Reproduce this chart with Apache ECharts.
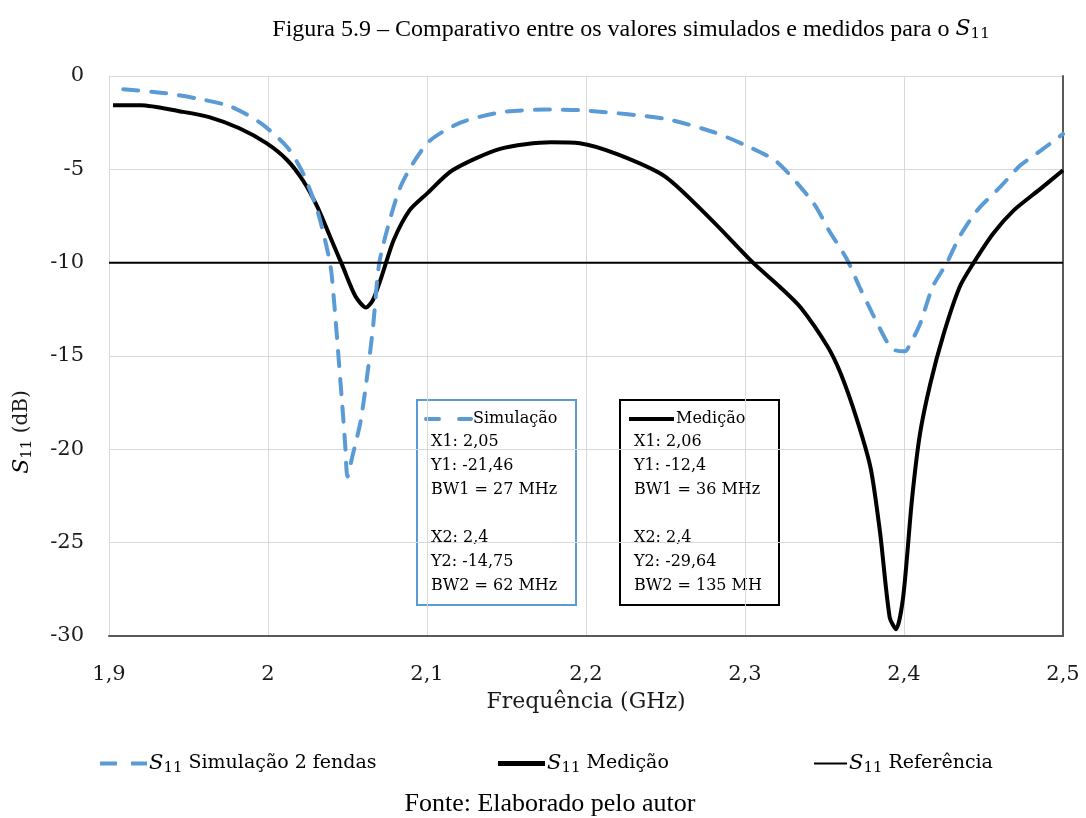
<!DOCTYPE html>
<html><head><meta charset="utf-8">
<script src="https://cdn.jsdelivr.net/npm/echarts@6/dist/echarts.min.js"></script>
<style>html,body{margin:0;padding:0;background:#fff}#c{width:1086px;height:818px}</style>
</head><body><div id="c"></div>
<script>
// ---- data ----
const simFreq = [1.909,1.936,1.955,1.976,1.995,2.012,2.022,2.031,2.037,2.040,2.0465,2.0485,2.050,2.053,2.058,2.0617,2.066,2.070,2.077,2.083,2.091,2.102,2.121,2.146,2.175,2.200,2.250,2.280,2.300,2.320,2.343,2.353,2.364,2.372,2.380,2.389,2.393,2.400,2.402,2.410,2.418,2.427,2.435,2.446,2.461,2.473,2.486,2.500];
const simDb   = [-0.71,-0.93,-1.2,-1.62,-2.5,-3.8,-5.2,-7.2,-9.2,-10.6,-17.4,-19.7,-21.46,-20.4,-18.6,-16.5,-13.5,-10.0,-7.6,-6.0,-4.7,-3.45,-2.5,-1.95,-1.8,-1.85,-2.3,-3.0,-3.7,-4.6,-6.8,-8.3,-9.8,-11.3,-12.7,-14.2,-14.65,-14.75,-14.65,-13.3,-11.3,-10.0,-8.6,-7.2,-5.9,-4.8,-4.0,-3.1];
const measFreq = [1.9025,1.920,1.945,1.963,1.982,1.999,2.012,2.022,2.031,2.039,2.047,2.055,2.0616,2.066,2.072,2.079,2.089,2.100,2.116,2.146,2.178,2.196,2.220,2.250,2.280,2.305,2.322,2.335,2.352,2.360,2.370,2.379,2.385,2.391,2.395,2.3995,2.405,2.410,2.4165,2.425,2.435,2.4435,2.456,2.469,2.485,2.500];
const measDb   = [-1.57,-1.57,-1.9,-2.2,-2.8,-3.6,-4.5,-5.6,-7.0,-8.6,-10.2,-11.8,-12.4,-12.0,-10.6,-8.8,-7.2,-6.3,-5.05,-3.9,-3.55,-3.6,-4.2,-5.4,-7.8,-10.0,-11.3,-12.4,-14.5,-15.9,-18.3,-21.0,-24.5,-29.0,-29.64,-27.9,-22.7,-19.2,-16.5,-13.8,-11.3,-10.05,-8.45,-7.2,-6.1,-5.05];
const refFreq = [1.9, 2.5];
const refDb   = [-10, -10];
const seriesNames = ['Simulação 2 fendas', 'Medição', 'Referência'];
const simNote  = ['X1: 2,05','Y1: -21,46','BW1 = 27 MHz','','X2: 2,4','Y2: -14,75','BW2 = 62 MHz'];
const measNote = ['X1: 2,06','Y1: -12,4','BW1 = 36 MHz','','X2: 2,4','Y2: -29,64','BW2 = 135 MH'];
const titleText = 'Figura 5.9 – Comparativo entre os valores simulados e medidos para o ';
const sourceText = 'Fonte: Elaborado pelo autor';

const zip = (a, b) => a.map((v, i) => [v, b[i]]);
const SERIF = 'DejaVu Serif';
const BLUE = '#5B9BD5';
const richS = {
  s:   {fontFamily: SERIF, fontStyle: 'italic', fontSize: 21, color: '#000'},
  sub: {fontFamily: SERIF, fontSize: 15, color: '#000', padding: [10, 0, 0, 0]},
  t:   {fontFamily: SERIF, fontSize: 19, color: '#000'}
};
const chart = echarts.init(document.getElementById('c'));
const noteGroup = (x, color, lineStyle, label, lines) => {
  const children = [
    {type: 'rect', shape: {x: x, y: 400, width: 159, height: 205}, style: {fill: '#fff', stroke: color, lineWidth: 2}},
    {type: 'line', shape: {x1: x + 9, y1: 419, x2: x + 54, y2: 419}, style: lineStyle},
    {type: 'text', x: x + 56, y: 419, style: {text: label, font: '16px "DejaVu Serif"', fill: '#000', verticalAlign: 'middle'}}
  ];
  lines.forEach((l, i) => {
    children.push({type: 'text', x: x + 14, y: 442 + i * 24, style: {text: l, font: '16px "DejaVu Serif"', fill: '#000', verticalAlign: 'middle'}});
  });
  return {type: 'group', children: children, z: 100};
};
const legendIcons = [
  'path://M0,0h17v4h-17z M31,0h16v4h-16z',
  'rect',
  'rect'
];
const option = {
  animation: false,
  backgroundColor: '#fff',
  title: [{
    text: titleText + '{s|S}{sub|11}', left: 626, top: 12, textAlign: 'center',
    textStyle: {fontFamily: 'Liberation Serif', fontSize: 24, fontWeight: 'normal', color: '#000',
      rich: {s: {fontFamily: SERIF, fontStyle: 'italic', fontSize: 22}, sub: {fontFamily: SERIF, fontSize: 15, padding: [10,0,0,0]}}}
  }, {
    text: sourceText, left: 545, top: 786, textAlign: 'center',
    textStyle: {fontFamily: 'Liberation Serif', fontSize: 26, fontWeight: 'normal', color: '#000'}
  }],
  grid: {left: 109, top: 76, width: 954, height: 560, containLabel: false},
  xAxis: {
    type: 'value', min: 1.9, max: 2.5, interval: 0.1,
    axisLine: {show: true, onZero: false, lineStyle: {color: '#595959', width: 2}},
    axisTick: {show: false},
    splitLine: {show: true, lineStyle: {color: '#d9d9d9', width: 1}},
    axisLabel: {margin: 28, fontFamily: SERIF, fontSize: 21, color: '#1a1a1a',
      formatter: v => String(Math.round(v * 10) / 10).replace('.', ',')},
    name: 'Frequência (GHz)', nameLocation: 'middle', nameGap: 55,
    nameTextStyle: {fontFamily: SERIF, fontSize: 22, color: '#1a1a1a'}
  },
  yAxis: [{
    type: 'value', min: -30, max: 0, interval: 5,
    axisLine: {show: true, onZero: false, lineStyle: {color: '#d9d9d9', width: 1}},
    axisTick: {show: false},
    splitLine: {show: true, lineStyle: {color: '#d9d9d9', width: 1}},
    axisLabel: {margin: 25, fontFamily: SERIF, fontSize: 21, color: '#1a1a1a'}
  }, {
    type: 'value', min: -30, max: 0, interval: 5, position: 'right',
    axisLine: {show: true, onZero: false, lineStyle: {color: '#595959', width: 2}},
    axisTick: {show: false}, axisLabel: {show: false}, splitLine: {show: false}
  }],
  legend: [0, 1, 2].map((i) => ({
    data: [{name: seriesNames[i], icon: legendIcons[i]}], left: [95, 493, 809][i], top: 748,
    itemWidth: [47, 47, 33][i], itemHeight: [4, 5, 2][i], itemGap: 0,
    itemStyle: {borderWidth: 0},
    formatter: n => '{s|S}{sub|11}{t| ' + n + '}',
    textStyle: {rich: richS, padding: [0, 0, 0, -3]}
  })),
  series: [{
    name: seriesNames[0], type: 'line', data: zip(simFreq, simDb), showSymbol: false, symbol: 'none',
    smooth: 0.25, lineStyle: {color: BLUE, width: 4, type: [15, 13], cap: 'round'}, itemStyle: {color: BLUE}, z: 3
  }, {
    name: seriesNames[1], type: 'line', data: zip(measFreq, measDb), showSymbol: false, symbol: 'none',
    smooth: 0.25, lineStyle: {color: '#000', width: 4}, itemStyle: {color: '#000'}, z: 2
  }, {
    name: seriesNames[2], type: 'line', data: zip(refFreq, refDb), showSymbol: false, symbol: 'none',
    lineStyle: {color: '#000', width: 2}, itemStyle: {color: '#000'}, z: 4
  }],
  graphic: [
    {type: 'text', x: 22, y: 432, rotation: Math.PI / 2, z: 100,
      style: {text: '{s|S}{sub|11}{t| (dB)}', rich: {s: {fontFamily: SERIF, fontStyle: 'italic', fontSize: 22, fill: '#000'}, sub: {fontFamily: SERIF, fontSize: 15, padding: [10,0,0,0], fill: '#000'}, t: {fontFamily: SERIF, fontSize: 20, fill: '#1a1a1a'}}, align: 'center', verticalAlign: 'middle'}},
    noteGroup(417, BLUE, {stroke: BLUE, lineWidth: 4, lineDash: [13, 20], lineCap: 'round'}, 'Simulação', simNote),
    noteGroup(620, '#000', {stroke: '#000', lineWidth: 4}, 'Medição', measNote)
  ]
};
chart.setOption(option);
</script></body></html>
